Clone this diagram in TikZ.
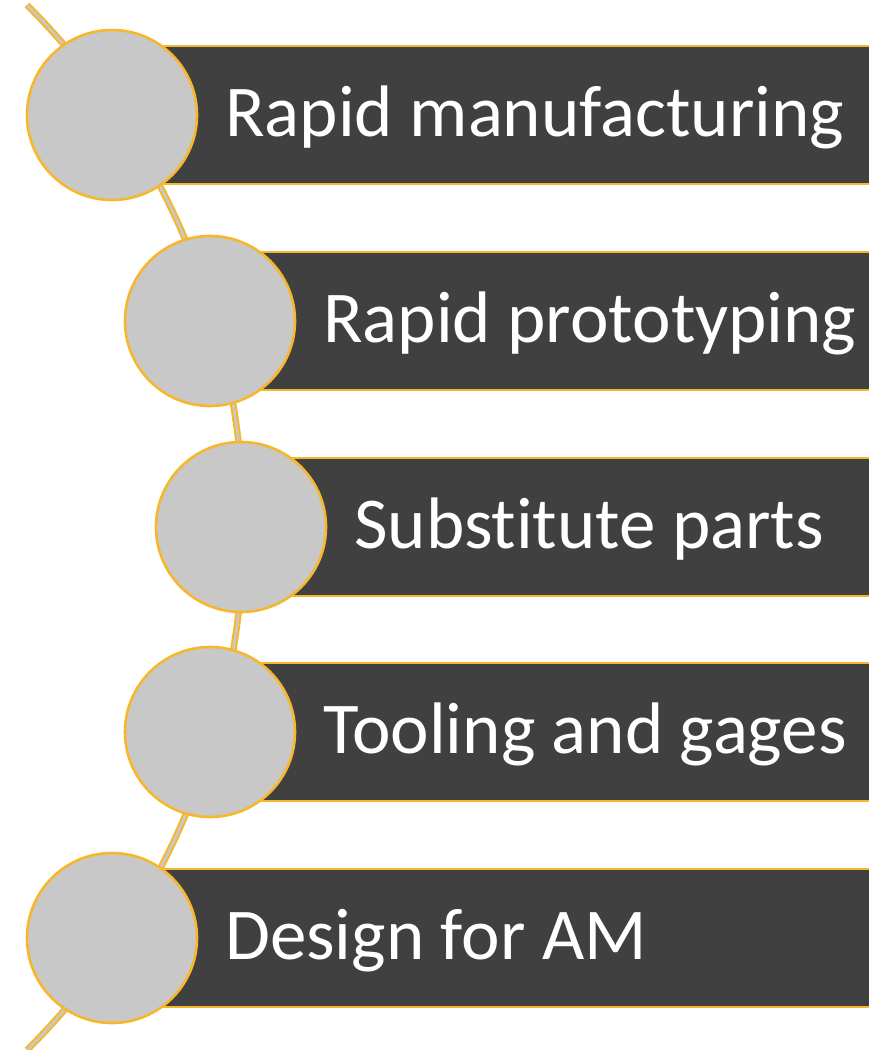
\documentclass[tikz,border=0pt]{standalone}
\usepackage{fontspec}
\setmainfont{Carlito}[Ligatures=NoCommon]
\definecolor{gold}{RGB}{247,183,44}
\definecolor{disc}{RGB}{200,200,200}
\definecolor{band}{RGB}{64,64,64}
\begin{document}
\begin{tikzpicture}[x=1pt,y=-1pt,
  bandbox/.style={draw=gold, line width=2.6pt, fill=band, rectangle,
    minimum height=138pt, minimum width=800pt, inner sep=0pt, anchor=west},
  discbox/.style={draw=gold, line width=2.6pt, fill=disc, circle,
    minimum size=170pt, inner sep=0pt},
  itemtext/.style={text=white, anchor=base west, inner sep=0pt,
    font=\fontsize{73}{88}\selectfont},
  spine/.style={draw=gold, line width=2pt, double=disc, double distance=2.6pt}]
\useasboundingbox (0,0) rectangle (869,1050);
\clip (0,0) rectangle (869,1050);
% curved spine behind the discs
\coordinate (spinetop) at (27,5);
\draw[spine] (spinetop) arc[start angle=-45, end angle=45, radius=739] coordinate (spinebot);
% bands, discs and labels
\foreach \i/\cx/\cy/\lbl in {1/112/115/Rapid manufacturing,
                             2/210/321/Rapid prototyping,
                             3/241/527/Substitute parts,
                             4/210/732/Tooling and gages,
                             5/112/938/Design for AM}{
  \node[bandbox] (band\i) at (\cx,\cy) {};
  \node[discbox] (disc\i) at (\cx,\cy) {};
  \node[itemtext] (text\i) at (\cx+113,\cy+21) {\lbl};
}
\end{tikzpicture}
\end{document}
